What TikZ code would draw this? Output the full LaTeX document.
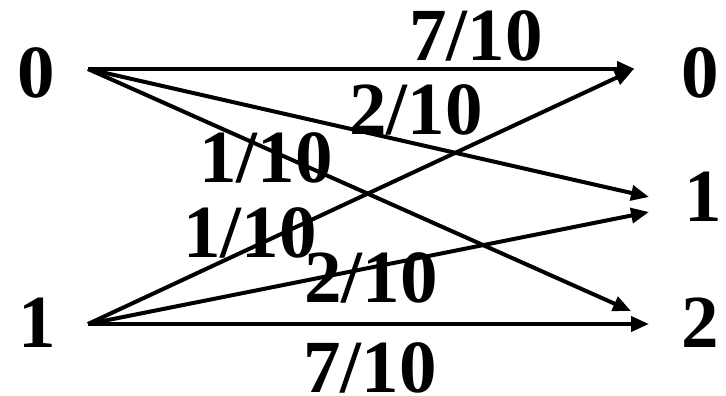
\documentclass[tikz,border=0pt]{standalone}
\usepackage{fontspec}
\setmainfont{Liberation Serif}
\usetikzlibrary{arrows.meta}
\begin{document}
\begin{tikzpicture}[x=1pt,y=-1pt,
  lbl/.style={inner sep=0pt,outer sep=0pt,anchor=base,font=\fontsize{75}{82}\selectfont\bfseries},
  conn/.style={line width=4pt,-{Triangle[length=18pt,width=15pt]}}]
\useasboundingbox (0,0) rectangle (726,396);
% symbols
\node[lbl] (in0) at (36,97) {0};
\node[lbl] (in1) at (37,347) {1};
\node[lbl] (out0) at (700,97) {0};
\node[lbl] (out1) at (703,221) {1};
\node[lbl] (out2) at (700,347) {2};
% connector ends
\coordinate (s0) at (88,69);
\coordinate (s1) at (88,324);
\coordinate (e00) at (635,69);
\coordinate (e10) at (633,70);
\coordinate (e01) at (649,197);
\coordinate (e11) at (649,212);
\coordinate (e02) at (631,311);
\coordinate (e12) at (649,324);
\draw[conn] (s0) -- (e00);
\draw[conn] (s0) -- (e01);
\draw[conn] (s0) -- (e02);
\draw[conn] (s1) -- (e10);
\draw[conn] (s1) -- (e11);
\draw[conn] (s1) -- (e12);
% probabilities
\node[lbl] (p00) at (476,61) {7/10};
\node[lbl] (p01) at (416,135) {2/10};
\node[lbl] (p02) at (266,182) {1/10};
\node[lbl] (p10) at (250,257) {1/10};
\node[lbl] (p11) at (371,302) {2/10};
\node[lbl] (p12) at (370,392) {7/10};
\end{tikzpicture}
\end{document}
